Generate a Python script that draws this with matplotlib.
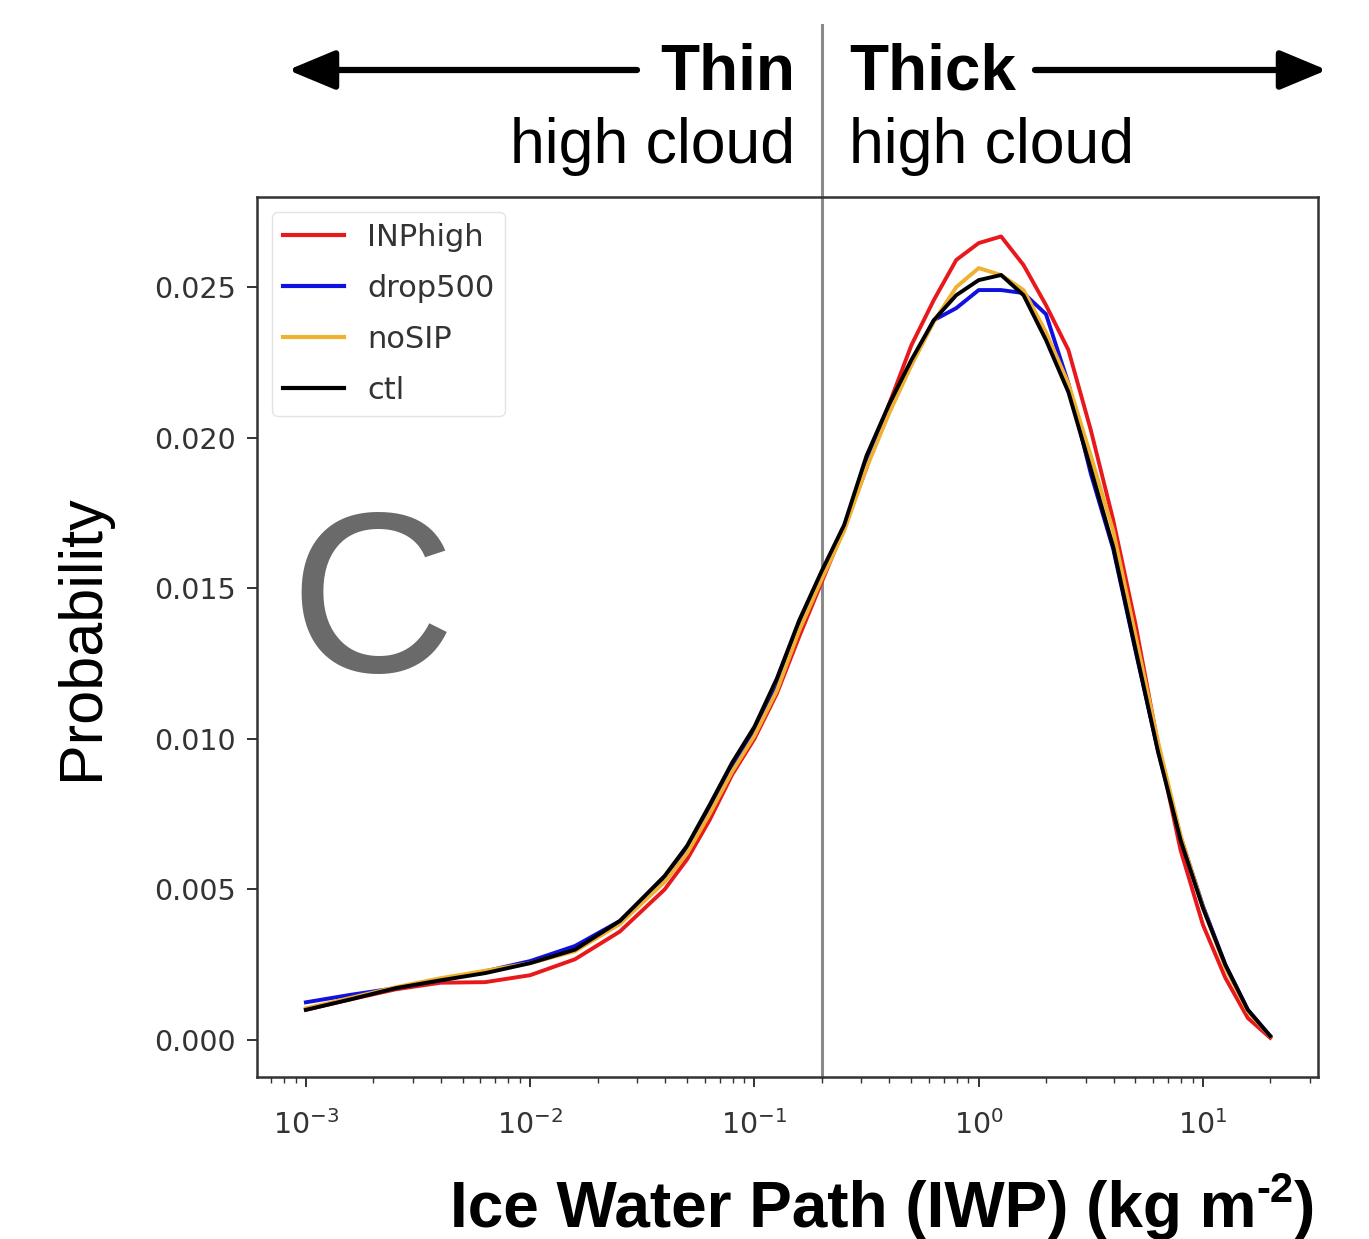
import numpy as np
import matplotlib
matplotlib.use("Agg")
import matplotlib.pyplot as plt
from matplotlib.patches import FancyArrowPatch

# ---------------- data ----------------
log_iwp = [-3.0, -2.8, -2.6, -2.4, -2.2, -2.0, -1.8, -1.6, -1.4, -1.3, -1.2, -1.1,
           -1.0, -0.9, -0.8, -0.7, -0.6, -0.5, -0.4, -0.3, -0.2, -0.1, 0.0, 0.1,
           0.2, 0.3, 0.4, 0.5, 0.6, 0.7, 0.8, 0.9, 1.0, 1.1, 1.2, 1.3]
iwp = [10 ** v for v in log_iwp]

inphigh = [0.00100, 0.00135, 0.00168, 0.00190, 0.00192, 0.00215, 0.00268, 0.00360,
           0.00500, 0.00600, 0.00730, 0.00880, 0.01000, 0.01150, 0.01340, 0.01520,
           0.01700, 0.01900, 0.02110, 0.02307, 0.02457, 0.02590, 0.02646, 0.02668,
           0.02573, 0.02440, 0.02291, 0.02025, 0.01726, 0.01378, 0.00980, 0.00631,
           0.00382, 0.00206, 0.00073, 0.00007]
drop500 = [0.00125, 0.00150, 0.00172, 0.00198, 0.00228, 0.00262, 0.00312, 0.00395,
           0.00540, 0.00640, 0.00770, 0.00900, 0.01020, 0.01170, 0.01370, 0.01540,
           0.01700, 0.01920, 0.02100, 0.02250, 0.02390, 0.02430, 0.02490, 0.02490,
           0.02480, 0.02410, 0.02180, 0.01880, 0.01630, 0.01290, 0.00960, 0.00675,
           0.00445, 0.00250, 0.00100, 0.00013]
nosip = [0.00105, 0.00140, 0.00175, 0.00205, 0.00230, 0.00255, 0.00295, 0.00385,
         0.00525, 0.00620, 0.00750, 0.00890, 0.01010, 0.01160, 0.01360, 0.01530,
         0.01690, 0.01900, 0.02080, 0.02240, 0.02385, 0.02500, 0.02563, 0.02540,
         0.02490, 0.02350, 0.02180, 0.01940, 0.01690, 0.01340, 0.00990, 0.00680,
         0.00440, 0.00240, 0.00095, 0.00012]
ctl = [0.00100, 0.00135, 0.00172, 0.00198, 0.00222, 0.00255, 0.00300, 0.00395,
       0.00545, 0.00645, 0.00780, 0.00920, 0.01040, 0.01200, 0.01394, 0.01557,
       0.01710, 0.01940, 0.02110, 0.02258, 0.02390, 0.02473, 0.02523, 0.02540,
       0.02473, 0.02324, 0.02151, 0.01896, 0.01637, 0.01295, 0.00956, 0.00664,
       0.00438, 0.00249, 0.00100, 0.00013]

series_names = ["INPhigh", "drop500", "noSIP", "ctl"]
series_vals = [inphigh, drop500, nosip, ctl]
series_colors = ["#e8191c", "#1010e0", "#f0b030", "#000000"]

y_ticks = [0.000, 0.005, 0.010, 0.015, 0.020, 0.025]
threshold = 0.2

# ---------------- figure ----------------
W, H = 1369, 1239
fig = plt.figure(figsize=(W / 100, H / 100), dpi=100)
ax = fig.add_axes([257 / W, 1 - 1077 / H, 1061 / W, 880 / H])

for name, vals, col in zip(series_names, series_vals, series_colors):
    ax.plot(iwp, vals, color=col, lw=2.8, label=name)

ax.set_xscale("log")
ax.set_xlim(10 ** -3.218, 10 ** 1.513)
ax.set_ylim(-0.00123, 0.02799)
ax.set_yticks(y_ticks)
ax.set_yticklabels([f"{v:.3f}" for v in y_ticks])

for sp in ax.spines.values():
    sp.set_color("#333333")
    sp.set_linewidth(1.8)
ax.tick_params(axis="both", which="major", labelsize=20.5, colors="#333333",
               length=7, width=1.4, pad=8)
ax.tick_params(axis="x", which="minor", length=4, width=1.0, colors="#333333")
ax.tick_params(axis="x", which="major", pad=17)

leg = ax.legend(loc="upper left", fontsize=22, frameon=True, handlelength=2.0,
                borderaxespad=0.5, labelspacing=0.72, handletextpad=0.75,
                borderpad=0.35)
leg.get_frame().set_edgecolor("#dddddd")
for t in leg.get_texts():
    t.set_color("#333333")
for h in leg.get_lines():
    h.set_linewidth(3.0)

# vertical divider extending above the axes
ax.axvline(threshold, ymin=0, ymax=(1077 - 25) / 880, color="#8a8a8a", lw=2.2,
           clip_on=False, zorder=0)

# big panel letter
fig.text(372 / W, 1 - 612 / H, "C", fontsize=165, color="#6a6a6a",
         family="Liberation Sans", ha="center", va="center")

# axis labels
fig.text(83 / W, 1 - 637 / H, "Probability", rotation=90, fontsize=44,
         family="Liberation Sans", ha="center", va="center")

renderer = fig.canvas.get_renderer()
base_y = 1 - 1227 / H
t_close = fig.text(1315 / W, base_y, ")", fontsize=46, fontweight="bold",
                   family="Liberation Sans", ha="right", va="baseline")
bb = t_close.get_window_extent(renderer)
t_sup = fig.text(bb.x0 / W, base_y + 25 / H, "-2", fontsize=30, fontweight="bold",
                 family="Liberation Sans", ha="right", va="baseline")
bb2 = t_sup.get_window_extent(renderer)
fig.text(bb2.x0 / W, base_y, "Ice Water Path (IWP) (kg m", fontsize=46,
         fontweight="bold", family="Liberation Sans", ha="right", va="baseline")

# top annotations
fig.text(795 / W, 1 - 90 / H, "Thin", fontsize=46, fontweight="bold",
         family="Liberation Sans", ha="right", va="baseline")
fig.text(849 / W, 1 - 90 / H, "Thick", fontsize=46, fontweight="bold",
         family="Liberation Sans", ha="left", va="baseline")
fig.text(795 / W, 1 - 163 / H, "high cloud", fontsize=45,
         family="Liberation Sans", ha="right", va="baseline")
fig.text(849 / W, 1 - 163 / H, "high cloud", fontsize=45,
         family="Liberation Sans", ha="left", va="baseline")

for x0, x1 in [(637, 288), (1035, 1327)]:
    arr = FancyArrowPatch((x0 / W, 1 - 70 / H), (x1 / W, 1 - 70 / H),
                          transform=fig.transFigure,
                          arrowstyle="-|>,head_length=2.4,head_width=1.0",
                          mutation_scale=12, lw=4.5, color="black",
                          shrinkA=0, shrinkB=0)
    fig.patches.append(arr)

fig.savefig("out.png", dpi=100)
